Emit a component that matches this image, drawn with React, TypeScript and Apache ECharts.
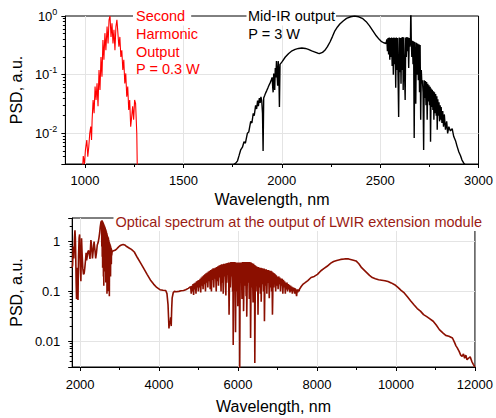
import React, { useEffect, useRef } from 'react';
import * as echarts from 'echarts';

const FONT = '"Liberation Sans", Arial, Helvetica, sans-serif';

// ---- tick positions ----
const topXLabels = [1000, 1500, 2000, 2500, 3000];
const topXMinor = [1250, 1750, 2250, 2750];
const botXLabels = [2000, 4000, 6000, 8000, 10000, 12000];
const botXMinor = [3000, 5000, 7000, 9000, 11000];
const yMinorTicks = [0.004, 0.005, 0.006, 0.007, 0.008, 0.009, 0.02, 0.03, 0.04, 0.05, 0.06, 0.07, 0.08, 0.09, 0.2, 0.3, 0.4, 0.5, 0.6, 0.7, 0.8, 0.9, 2];

// ---- second harmonic output (wavelength nm, PSD) ----
const shgSpectrum = [
  [986, 0.002], [991, 0.0041], [997, 0.003], [1002, 0.0052], [1009, 0.0077], [1014, 0.004], [1019, 0.0059],
  [1024, 0.01], [1029, 0.013], [1033, 0.0077], [1036, 0.017], [1041, 0.037], [1046, 0.022], [1051, 0.063],
  [1056, 0.037], [1061, 0.071], [1066, 0.029], [1071, 0.12], [1076, 0.055], [1081, 0.2], [1086, 0.092],
  [1091, 0.39], [1096, 0.18], [1101, 0.51], [1106, 0.26], [1112, 0.66], [1117, 0.34], [1122, 0.86],
  [1127, 1.0], [1132, 0.44], [1137, 0.75], [1142, 0.34], [1147, 0.58], [1152, 0.26], [1157, 0.66],
  [1162, 0.86], [1167, 0.51], [1172, 0.3], [1177, 0.44], [1182, 0.2], [1187, 0.26], [1192, 0.12],
  [1197, 0.18], [1202, 0.071], [1207, 0.105], [1212, 0.042], [1217, 0.063], [1222, 0.025], [1227, 0.037],
  [1232, 0.013], [1237, 0.019], [1242, 0.029], [1247, 0.017], [1252, 0.037], [1257, 0.032], [1263, 0.01],
  [1266, 0.002]
];

// ---- mid-IR output (wavelength nm, PSD) ----
const midIrSpectrum = [
  [1750, 0.002], [1758, 0.003], [1766, 0.0031], [1775, 0.0034], [1783, 0.0042], [1791, 0.0052], [1800, 0.0058],
  [1808, 0.0072], [1815, 0.0068], [1825, 0.01], [1832, 0.0105], [1842, 0.016], [1848, 0.015], [1855, 0.022],
  [1860, 0.02], [1867, 0.03], [1872, 0.026], [1877, 0.036], [1881, 0.029], [1886, 0.04], [1890, 0.033],
  [1894, 0.042], [1898, 0.036], [1902, 0.022], [1905, 0.005], [1908, 0.04], [1913, 0.044], [1917, 0.048],
  [1923, 0.053], [1929, 0.059], [1935, 0.066], [1942, 0.074], [1947, 0.082], [1951, 0.09], [1954, 0.06],
  [1956, 0.05], [1959, 0.105], [1962, 0.07], [1964, 0.055], [1967, 0.13], [1970, 0.09], [1973, 0.17],
  [1976, 0.1], [1979, 0.065], [1982, 0.17], [1985, 0.11], [1988, 0.028], [1991, 0.15], [2001, 0.165],
  [2018, 0.2], [2035, 0.23], [2052, 0.255], [2068, 0.27], [2085, 0.28], [2102, 0.285], [2120, 0.28],
  [2135, 0.27], [2152, 0.255], [2169, 0.243], [2183, 0.232], [2194, 0.23], [2207, 0.24], [2219, 0.26],
  [2232, 0.3], [2245, 0.36], [2258, 0.45], [2270, 0.56], [2283, 0.65], [2295, 0.73], [2312, 0.82],
  [2329, 0.91], [2350, 0.97], [2370, 1.0], [2391, 0.97], [2412, 0.9], [2429, 0.8], [2446, 0.68],
  [2463, 0.56], [2480, 0.46], [2495, 0.4], [2505, 0.37], [2518, 0.35], [2530, 0.34],
  [2534, 0.4], [2537, 0.25], [2540, 0.42], [2543, 0.22], [2546, 0.43], [2549, 0.18], [2552, 0.42],
  [2555, 0.2], [2558, 0.43], [2561, 0.14], [2564, 0.42], [2567, 0.1], [2570, 0.43], [2573, 0.15],
  [2576, 0.42], [2579, 0.06], [2582, 0.43], [2585, 0.12], [2588, 0.42], [2591, 0.09], [2594, 0.019],
  [2597, 0.43], [2600, 0.11], [2603, 0.42], [2606, 0.07], [2609, 0.43], [2612, 0.12], [2615, 0.44],
  [2617, 0.055], [2620, 0.43], [2623, 0.15], [2627, 0.037], [2630, 0.43], [2633, 0.2], [2636, 0.44],
  [2639, 0.25], [2642, 0.43], [2645, 0.13], [2648, 0.42], [2651, 0.3], [2654, 0.42], [2656, 1.5],
  [2658, 0.4], [2661, 0.2], [2664, 0.38], [2667, 0.15], [2670, 0.37], [2673, 0.0083], [2676, 0.36],
  [2679, 0.12], [2681, 0.032], [2684, 0.35], [2687, 0.1], [2690, 0.34], [2694, 0.08], [2697, 0.33],
  [2700, 0.05], [2703, 0.32], [2706, 0.017], [2709, 0.12], [2712, 0.071], [2715, 0.08], [2718, 0.05],
  [2721, 0.0052], [2724, 0.08], [2727, 0.04], [2730, 0.078], [2733, 0.03], [2736, 0.075], [2739, 0.017],
  [2742, 0.07], [2745, 0.035], [2748, 0.066], [2751, 0.03], [2754, 0.062], [2756, 0.0072], [2759, 0.058],
  [2762, 0.028], [2765, 0.055], [2768, 0.025], [2771, 0.052], [2773, 0.017], [2776, 0.05], [2779, 0.022],
  [2782, 0.047], [2785, 0.02], [2788, 0.043], [2790, 0.0115], [2793, 0.038], [2796, 0.02], [2799, 0.034],
  [2802, 0.016], [2805, 0.03], [2807, 0.017], [2810, 0.028], [2814, 0.015], [2818, 0.024], [2822, 0.013],
  [2826, 0.021], [2832, 0.0115], [2838, 0.016], [2843, 0.01], [2849, 0.013], [2857, 0.011], [2866, 0.012],
  [2874, 0.0088], [2883, 0.0075], [2891, 0.006], [2900, 0.0048], [2908, 0.0042], [2916, 0.0035],
  [2925, 0.0031], [2933, 0.0029], [2940, 0.002]
];

// ---- LWIR extension module output (wavelength nm, PSD) ----
const lwirSpectrum = [
  [1800, 0.3], [1810, 0.34], [1825, 0.8], [1842, 0.46], [1858, 1.2], [1870, 1.7], [1880, 1.2], [1890, 0.5],
  [1900, 0.15], [1910, 0.07], [1922, 0.09], [1935, 0.3], [1947, 0.067], [1960, 0.5], [1975, 1.2], [1988, 1.4],
  [2000, 0.5], [2010, 0.25], [2020, 0.16], [2030, 0.5], [2037, 1.17], [2050, 0.6], [2069, 0.29], [2086, 0.22],
  [2103, 0.23], [2120, 0.3], [2140, 0.45], [2152, 0.6], [2165, 0.42], [2180, 0.5], [2195, 0.62], [2215, 0.67],
  [2235, 0.55], [2250, 0.45], [2262, 0.7], [2274, 1.08], [2290, 0.85], [2313, 0.46], [2335, 0.7], [2354, 1.0],
  [2375, 0.7], [2395, 0.46], [2415, 0.6], [2435, 0.86], [2455, 0.95], [2476, 1.17], [2495, 1.5], [2510, 2.0],
  [2525, 2.4], [2538, 2.6],
  [2545, 2.2], [2550, 0.8], [2556, 2.7], [2561, 0.5], [2566, 2.6], [2571, 0.3], [2576, 2.5], [2581, 0.6],
  [2586, 2.4], [2591, 0.2], [2596, 2.3], [2600, 0.13], [2606, 2.2], [2611, 0.4], [2616, 2.1], [2621, 0.25],
  [2626, 2.0], [2631, 0.5], [2636, 1.9], [2641, 0.3], [2646, 1.8], [2651, 0.15], [2656, 1.7], [2661, 0.4],
  [2666, 1.6], [2671, 0.2], [2676, 1.5], [2681, 0.09], [2686, 1.4], [2691, 0.3], [2696, 1.3], [2701, 0.1],
  [2706, 1.25], [2711, 0.35], [2716, 1.2], [2721, 0.2], [2726, 1.1], [2731, 0.45], [2736, 1.0], [2741, 0.08],
  [2746, 0.95], [2751, 0.3], [2756, 0.9], [2761, 0.45], [2766, 0.85], [2771, 0.2], [2776, 0.8], [2781, 0.5],
  [2786, 0.75], [2791, 0.35], [2796, 0.7], [2801, 0.53], [2810, 0.62], [2830, 0.65],
  [2884, 0.67], [2930, 0.72], [2965, 0.77], [3000, 0.82], [3046, 0.86], [3090, 0.88], [3130, 0.86],
  [3180, 0.8], [3250, 0.74], [3300, 0.7], [3373, 0.62], [3450, 0.48], [3534, 0.37], [3600, 0.3], [3697, 0.22],
  [3780, 0.17], [3861, 0.14], [3941, 0.12], [4022, 0.108], [4100, 0.105], [4169, 0.104], [4200, 0.09],
  [4227, 0.054], [4240, 0.03], [4251, 0.018], [4265, 0.025], [4280, 0.022], [4295, 0.03], [4308, 0.02],
  [4320, 0.045], [4332, 0.074], [4360, 0.095], [4389, 0.1], [4430, 0.098], [4500, 0.1], [4560, 0.103],
  [4620, 0.104], [4674, 0.108], [4740, 0.115],
  [4800, 0.125], [4815, 0.09], [4830, 0.13], [4845, 0.1], [4860, 0.14], [4875, 0.085], [4890, 0.145],
  [4905, 0.11], [4920, 0.15], [4935, 0.09], [4950, 0.16], [4965, 0.12], [4980, 0.165], [4995, 0.1],
  [5010, 0.17], [5025, 0.12], [5040, 0.18], [5055, 0.095], [5070, 0.19], [5085, 0.13], [5100, 0.2],
  [5115, 0.11], [5130, 0.21], [5145, 0.14], [5160, 0.22], [5175, 0.1], [5190, 0.23], [5205, 0.15],
  [5220, 0.24], [5235, 0.12], [5250, 0.25], [5265, 0.16], [5280, 0.26], [5295, 0.11], [5310, 0.27],
  [5326, 0.1], [5340, 0.28], [5355, 0.17], [5370, 0.29], [5385, 0.12], [5400, 0.29], [5415, 0.18],
  [5430, 0.3], [5448, 0.1], [5460, 0.31], [5475, 0.16], [5490, 0.32], [5505, 0.13], [5520, 0.33],
  [5535, 0.19], [5550, 0.34], [5570, 0.1], [5580, 0.35], [5595, 0.15], [5610, 0.35], [5625, 0.09],
  [5640, 0.36], [5655, 0.2], [5670, 0.36], [5692, 0.083], [5700, 0.37], [5715, 0.15], [5730, 0.37],
  [5745, 0.22], [5760, 0.38], [5773, 0.034], [5790, 0.38], [5805, 0.12], [5820, 0.39], [5835, 0.2],
  [5850, 0.39], [5862, 0.1], [5870, 0.39], [5878, 0.0083], [5890, 0.39], [5905, 0.18], [5920, 0.39],
  [5937, 0.015], [5950, 0.38], [5965, 0.1], [5980, 0.38], [5995, 0.05], [6010, 0.38], [6025, 0.12],
  [6035, 0.38], [6042, 0.002], [6055, 0.38], [6070, 0.15], [6085, 0.38], [6100, 0.07], [6115, 0.39],
  [6130, 0.2], [6135, 0.39], [6140, 0.04], [6160, 0.39], [6175, 0.13], [6190, 0.39], [6205, 0.08],
  [6215, 0.39], [6221, 0.031], [6240, 0.39], [6255, 0.15], [6270, 0.39], [6285, 0.07], [6300, 0.39],
  [6310, 0.2], [6318, 0.0115], [6335, 0.38], [6350, 0.12], [6365, 0.37], [6380, 0.06], [6395, 0.36],
  [6410, 0.15], [6418, 0.34], [6425, 0.0036], [6440, 0.33], [6455, 0.1], [6470, 0.32], [6485, 0.16],
  [6495, 0.31], [6506, 0.034], [6520, 0.31], [6535, 0.12], [6550, 0.3], [6565, 0.09], [6580, 0.3],
  [6587, 0.062], [6600, 0.29], [6615, 0.14], [6630, 0.29], [6645, 0.1], [6660, 0.29], [6669, 0.025],
  [6685, 0.28], [6700, 0.13], [6715, 0.28], [6730, 0.09], [6745, 0.27], [6760, 0.15], [6775, 0.27],
  [6791, 0.073], [6805, 0.26], [6820, 0.12], [6835, 0.26], [6850, 0.1], [6860, 0.25], [6872, 0.034],
  [6890, 0.24], [6905, 0.12], [6920, 0.23], [6935, 0.14], [6945, 0.22], [6953, 0.1], [6970, 0.21],
  [6985, 0.13], [7000, 0.2], [7015, 0.11], [7030, 0.2], [7045, 0.14], [7060, 0.19], [7075, 0.1],
  [7090, 0.18], [7105, 0.13], [7120, 0.18], [7135, 0.09], [7150, 0.17], [7165, 0.12], [7180, 0.16],
  [7198, 0.09], [7210, 0.15], [7225, 0.11], [7240, 0.15], [7255, 0.1], [7270, 0.14], [7285, 0.11],
  [7300, 0.135], [7315, 0.095], [7330, 0.13], [7345, 0.1], [7360, 0.125], [7375, 0.09], [7390, 0.12],
  [7405, 0.1], [7420, 0.118], [7435, 0.09], [7450, 0.115], [7465, 0.1], [7483, 0.08], [7500, 0.11],
  [7515, 0.095], [7530, 0.11], [7545, 0.1], [7560, 0.112], [7580, 0.118], [7600, 0.125],
  [7650, 0.14], [7700, 0.15], [7768, 0.165], [7850, 0.19], [7930, 0.2], [8012, 0.22], [8100, 0.26],
  [8180, 0.29], [8256, 0.32], [8350, 0.37], [8420, 0.4], [8500, 0.42], [8600, 0.44], [8700, 0.45],
  [8800, 0.45], [8900, 0.43], [8989, 0.41], [9060, 0.36], [9130, 0.3], [9233, 0.25], [9330, 0.21],
  [9400, 0.19], [9478, 0.18], [9560, 0.172], [9640, 0.168], [9722, 0.164], [9800, 0.158], [9880, 0.148],
  [9966, 0.136], [10050, 0.12], [10130, 0.105], [10210, 0.093], [10290, 0.078], [10370, 0.065],
  [10455, 0.054], [10540, 0.045], [10620, 0.04], [10699, 0.034], [10780, 0.031], [10860, 0.028],
  [10943, 0.025], [11020, 0.021], [11100, 0.017], [11187, 0.0146], [11260, 0.013], [11340, 0.0125],
  [11431, 0.0115], [11480, 0.0095], [11520, 0.008], [11553, 0.0073], [11600, 0.0062], [11640, 0.0052],
  [11675, 0.0049], [11710, 0.0055], [11740, 0.0045], [11770, 0.0052], [11800, 0.0042], [11837, 0.0045],
  [11880, 0.0048], [11920, 0.0039], [11959, 0.0034], [12000, 0.003]
];

const isDecade = (v: number) => Math.abs(Math.log10(v) - Math.round(Math.log10(v))) < 1e-6;

function mainX(grid: number, min: number, max: number, labels: number[], nameGap: number, margin: number) {
  return {
    gridIndex: grid, type: 'value', min, max, position: 'bottom',
    axisLine: { show: true, onZero: false, lineStyle: { color: '#000', width: 1 } },
    axisTick: { show: true, inside: false, length: 4, customValues: labels, lineStyle: { color: '#000' } },
    axisLabel: { customValues: labels, margin, fontSize: 13, color: '#000', fontFamily: FONT, formatter: (v: number) => String(v) },
    splitLine: { show: true, showMaxLine: false, lineStyle: { color: '#e4e4e4', width: 1 } },
    name: 'Wavelength, nm', nameLocation: 'middle', nameGap,
    nameTextStyle: { fontSize: 16, color: '#000', fontFamily: FONT },
  };
}
function minorX(grid: number, min: number, max: number, ticks: number[]) {
  return {
    gridIndex: grid, type: 'value', min, max, position: 'bottom',
    axisLine: { show: false, onZero: false },
    axisTick: { show: true, inside: false, length: 3, customValues: ticks, lineStyle: { color: '#000' } },
    axisLabel: { show: false },
    splitLine: { show: false },
  };
}
function minorY(grid: number, min: number, max: number) {
  return {
    gridIndex: grid, type: 'value', min: Math.log10(min), max: Math.log10(max), position: 'left',
    axisLine: { show: false, onZero: false },
    axisTick: {
      show: true, inside: false, length: 2.5,
      customValues: yMinorTicks.filter((t) => t > min && t < max).map((t) => Math.log10(t)),
      lineStyle: { color: '#000' },
    },
    axisLabel: { show: false },
    splitLine: { show: false },
  };
}

export default function App() {
  const ref = useRef<HTMLDivElement>(null);
  useEffect(() => {
    if (!ref.current) return;
    const chart = echarts.init(ref.current, undefined, { renderer: 'svg' });
    const textFont = '14.5px "Liberation Sans", Arial, sans-serif';
    const option: any = {
      animation: false,
      backgroundColor: '#fff',
      textStyle: { fontFamily: FONT },
      grid: [
        { left: 63, top: 16, width: 417, height: 148, show: true, borderColor: '#000', borderWidth: 1, backgroundColor: 'transparent' },
        { left: 62, top: 218, width: 418, height: 149, show: true, borderColor: '#000', borderWidth: 1, backgroundColor: 'transparent' },
      ],
      xAxis: [
        mainX(0, 900, 3000, topXLabels, 27, 10),
        minorX(0, 900, 3000, topXMinor),
        mainX(1, 1800, 12000, botXLabels, 31, 11),
        minorX(1, 1800, 12000, botXMinor),
      ],
      yAxis: [
        {
          gridIndex: 0, type: 'log', logBase: 10, min: 0.003, max: 1, position: 'left',
          axisLine: { show: true, onZero: false, lineStyle: { color: '#000' } },
          axisTick: { show: true, length: 4, lineStyle: { color: '#000' } },
          axisLabel: {
            margin: 8, color: '#000',
            formatter: (v: number) => (isDecade(v) ? `{b|10}{s|${Math.round(Math.log10(v))}}` : ''),
            rich: {
              b: { fontSize: 13, lineHeight: 18, color: '#000', fontFamily: FONT },
              s: { fontSize: 9, verticalAlign: 'top', lineHeight: 10, color: '#000', fontFamily: FONT },
            },
          },
          splitLine: { show: true, showMinLine: false, showMaxLine: false, lineStyle: { color: '#e4e4e4' } },
          name: 'PSD, a.u.', nameLocation: 'middle', nameGap: 39,
          nameTextStyle: { fontSize: 16, color: '#000', fontFamily: FONT },
        },
        minorY(0, 0.003, 1),
        {
          gridIndex: 1, type: 'log', logBase: 10, min: 0.003, max: 3, position: 'left',
          axisLine: { show: true, onZero: false, lineStyle: { color: '#000' } },
          axisTick: { show: true, length: 4, lineStyle: { color: '#000' } },
          axisLabel: {
            margin: 12, fontSize: 13, color: '#000', fontFamily: FONT,
            formatter: (v: number) => {
              if (!isDecade(v)) return '';
              const e = Math.round(Math.log10(v));
              return e >= 0 ? String(Math.pow(10, e)) : (Math.pow(10, e)).toFixed(-e);
            },
          },
          splitLine: { show: true, showMinLine: false, showMaxLine: false, lineStyle: { color: '#e4e4e4' } },
          name: 'PSD, a.u.', nameLocation: 'middle', nameGap: 38,
          nameTextStyle: { fontSize: 16, color: '#000', fontFamily: FONT },
        },
        minorY(1, 0.003, 3),
      ],
      series: [
        {
          type: 'line', xAxisIndex: 0, yAxisIndex: 0, data: shgSpectrum, showSymbol: false, symbol: 'none',
          silent: true, clip: true, lineStyle: { color: '#ff0000', width: 1.1 }, z: 3,
        },
        {
          type: 'line', xAxisIndex: 0, yAxisIndex: 0, data: midIrSpectrum, showSymbol: false, symbol: 'none',
          silent: true, clip: true, lineStyle: { color: '#000', width: 1.4 }, z: 3,
        },
        {
          type: 'line', xAxisIndex: 2, yAxisIndex: 2, data: lwirSpectrum, showSymbol: false, symbol: 'none',
          silent: true, clip: true, lineStyle: { color: '#8b0f00', width: 1.6 }, z: 3,
        },
      ],
      graphic: [
        { type: 'text', x: 133, y: 16, z: 100, silent: true,
          style: { text: 'Second', fill: '#ff0000', font: textFont, verticalAlign: 'middle', backgroundColor: '#fff', padding: [2, 6, 2, 3] } },
        { type: 'text', x: 136, y: 33.8, z: 100, silent: true,
          style: { text: 'Harmonic', fill: '#ff0000', font: textFont, verticalAlign: 'middle' } },
        { type: 'text', x: 136, y: 51.5, z: 100, silent: true,
          style: { text: 'Output', fill: '#ff0000', font: textFont, verticalAlign: 'middle' } },
        { type: 'text', x: 136, y: 69.2, z: 100, silent: true,
          style: { text: 'P = 0.3 W', fill: '#ff0000', font: textFont, verticalAlign: 'middle' } },
        { type: 'text', x: 246.5, y: 16, z: 100, silent: true,
          style: { text: 'Mid-IR output', fill: '#000', font: textFont, verticalAlign: 'middle', backgroundColor: '#fff', padding: [2, 1, 2, 1.5] } },
        { type: 'text', x: 248.3, y: 33.5, z: 100, silent: true,
          style: { text: 'P = 3 W', fill: '#000', font: textFont, verticalAlign: 'middle' } },
        { type: 'text', x: 113.5, y: 221.5, z: 100, silent: true,
          style: { text: 'Optical spectrum at the output of LWIR extension module', fill: '#9b1c14', font: textFont, verticalAlign: 'middle', backgroundColor: '#fff', padding: [2, 8, 2, 2] } },
      ],
    };
    chart.setOption(option);
    return () => chart.dispose();
  }, []);
  return <div ref={ref} style={{ position: 'fixed', left: 0, top: 0, width: 496, height: 418 }} />;
}
